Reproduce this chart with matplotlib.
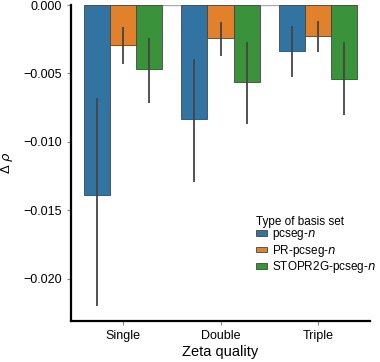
import matplotlib
matplotlib.use("Agg")
import matplotlib.pyplot as plt
import numpy as np

categories = ["Single", "Double", "Triple"]
series = ["pcseg-$n$", "PR-pcseg-$n$", "STOPR2G-pcseg-$n$"]
values = {
    "pcseg": [-0.01391, -0.00830, -0.00334],
    "PR": [-0.00293, -0.00239, -0.00225],
    "STOPR2G": [-0.00471, -0.00566, -0.00540],
}
err_hi = {
    "pcseg": [-0.00683, -0.00398, -0.00154],
    "PR": [-0.00159, -0.00122, -0.00115],
    "STOPR2G": [-0.00244, -0.00273, -0.00273],
}
err_lo = {
    "pcseg": [-0.02203, -0.01293, -0.00529],
    "PR": [-0.00434, -0.00373, -0.00342],
    "STOPR2G": [-0.00720, -0.00871, -0.00805],
}
keys = ["pcseg", "PR", "STOPR2G"]
colors = ["#3274a1", "#e1812c", "#3a923a"]

plt.rcParams['font.family'] = ['Liberation Sans', 'DejaVu Sans']
fig = plt.figure(figsize=(3.8, 3.62), dpi=100)
ax = fig.add_axes([71/380, 1-321/362, 299/380, 316/362])

x = np.arange(len(categories))
w = 0.8 / 3
for i, k in enumerate(keys):
    pos = x - 0.4 + w * (i + 0.5)
    ax.bar(pos, values[k], width=w, color=colors[i], edgecolor="#444444",
           linewidth=0.6, label=series[i], zorder=2)
    ax.vlines(pos, err_lo[k], err_hi[k], color="#444444", linewidth=1.3, zorder=3)

ax.hlines(0, x[0] - 0.4, x[-1] + 0.4, color="#aaaaaa", linewidth=1.0, zorder=1)

ax.set_xlim(-0.53, 2.53)
ax.set_ylim(-0.0231, 0.0)
ax.set_yticks([0.0, -0.005, -0.010, -0.015, -0.020])
ax.set_yticklabels(["0.000", "\u22120.005", "\u22120.010", "\u22120.015", "\u22120.020"])
ax.set_xticks(x)
ax.set_xticklabels(categories)
ax.tick_params(axis='both', labelsize=9, length=3, width=0.8, color="#888888")
for s in ["top", "right"]:
    ax.spines[s].set_visible(False)
for s in ["left", "bottom"]:
    ax.spines[s].set_linewidth(1.6)
    ax.spines[s].set_color("black")

ax.set_xlabel("Zeta quality", fontsize=10.5, labelpad=2)
ax.set_ylabel("\u0394 $\\rho$", fontsize=9.5, labelpad=6)

leg = ax.legend(title="Type of basis set", loc="upper left",
                bbox_to_anchor=(0.59, 0.36), frameon=False, fontsize=8.5,
                title_fontsize=8.5, handlelength=1.0, handleheight=0.35,
                handletextpad=0.4, labelspacing=0.05, borderpad=0.2)
leg._legend_box.align = "left"

fig.savefig("out.png", dpi=100)
